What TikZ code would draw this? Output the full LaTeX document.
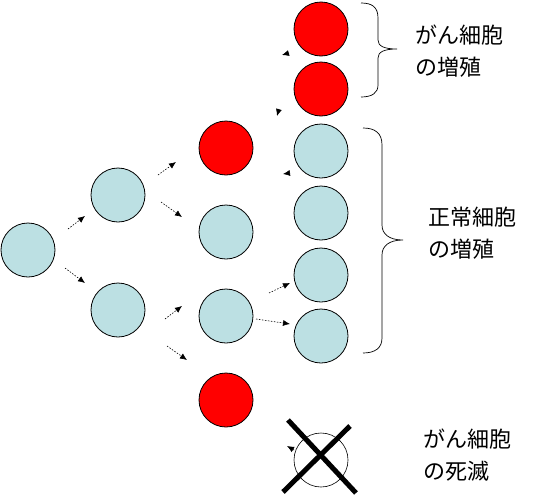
\documentclass[tikz,border=0pt]{standalone}
\usepackage{fontspec}
\newfontfamily\jp{Noto Sans CJK JP}
\usetikzlibrary{arrows.meta}
\definecolor{cellblue}{RGB}{188,224,227}
\definecolor{cellred}{RGB}{255,0,0}
\tikzset{
  cell/.style={circle, draw=black, line width=0.8pt, minimum size=54pt, inner sep=0pt},
  normal/.style={cell, fill=cellblue},
  cancer/.style={cell, fill=cellred},
  deadcell/.style={circle, draw=black, line width=0.6pt, fill=white, minimum size=54pt, inner sep=0pt},
  arr/.style={line width=0.6pt, dash pattern=on 1.5pt off 1.5pt, -{Latex[length=7pt,width=6pt]}},
  headonly/.style={line width=0.6pt, -{Latex[length=7pt,width=6pt]}},
  brace/.style={line width=0.7pt, draw=black},
  lbl/.style={font=\jp\fontsize{22}{32}\selectfont, align=left, anchor=west, inner sep=0pt},
  cross/.style={line width=5pt, draw=black}
}
\begin{document}
\begin{tikzpicture}[x=1pt,y=-1pt]
\useasboundingbox (0,0) rectangle (548,498);
% cells
\node[normal] (A) at (28,250) {};
\node[normal] (B1) at (118,195) {};
\node[normal] (B2) at (118,310) {};
\node[cancer] (C1) at (226,148) {};
\node[normal] (C2) at (226,232) {};
\node[normal] (C3) at (226,316) {};
\node[cancer] (C4) at (226,400) {};
\node[cancer] (D1) at (321,29) {};
\node[cancer] (D2) at (321,89) {};
\node[normal] (D3) at (321,151) {};
\node[normal] (D4) at (321,213) {};
\node[normal] (D5) at (321,275) {};
\node[normal] (D6) at (321,336) {};
\node[deadcell] (X) at (321,460) {};
% cross
\draw[cross] (288,420) -- (356,493);
\draw[cross] (350,426) -- (283,492);
% arrows
\coordinate (a1s) at (68,229); \coordinate (a1e) at (85,216);
\coordinate (a2s) at (65,268); \coordinate (a2e) at (85,283);
\coordinate (a3s) at (158,175); \coordinate (a3e) at (176,162);
\coordinate (a4s) at (161,202); \coordinate (a4e) at (182,217);
\coordinate (a5s) at (165,319); \coordinate (a5e) at (182,306);
\coordinate (a6s) at (167,346); \coordinate (a6e) at (187,360);
\coordinate (a7s) at (269,293); \coordinate (a7e) at (290,283);
\coordinate (a8s) at (256,319); \coordinate (a8e) at (290,324);
\draw[arr] (a1s) -- (a1e);
\draw[arr] (a2s) -- (a2e);
\draw[arr] (a3s) -- (a3e);
\draw[arr] (a4s) -- (a4e);
\draw[arr] (a5s) -- (a5e);
\draw[arr] (a6s) -- (a6e);
\draw[arr] (a7s) -- (a7e);
\draw[arr] (a8s) -- (a8e);
% stray arrow heads
\coordinate (h1s) at (289,53); \coordinate (h1e) at (282,55);
\coordinate (h2s) at (279,109); \coordinate (h2e) at (277,116);
\coordinate (h3s) at (290,173); \coordinate (h3e) at (283,174);
\coordinate (h4s) at (294,450); \coordinate (h4e) at (287,446);
\draw[headonly] (h1s) -- (h1e);
\draw[headonly] (h2s) -- (h2e);
\draw[headonly] (h3s) -- (h3e);
\draw[headonly] (h4s) -- (h4e);
% braces
\draw[brace] (361,3) .. controls (372,3) and (378,7) .. (378,18) -- (378,40)
  .. controls (378,46) and (384,49) .. (397,49)
  .. controls (384,49) and (378,52) .. (378,58) -- (378,85)
  .. controls (378,93) and (372,97) .. (361,97);
\draw[brace] (363,128) .. controls (375,128) and (382,133) .. (382,145) -- (382,225)
  .. controls (382,234) and (389,240) .. (403,240)
  .. controls (389,240) and (382,246) .. (382,255) -- (382,338)
  .. controls (382,348) and (375,353) .. (363,353);
% labels
\node[lbl] (t1) at (415,51) {がん細胞\\の増殖};
\node[lbl] (t2) at (428,233) {正常細胞\\の増殖};
\node[lbl] (t3) at (423,455) {がん細胞\\の死滅};
\end{tikzpicture}
\end{document}
